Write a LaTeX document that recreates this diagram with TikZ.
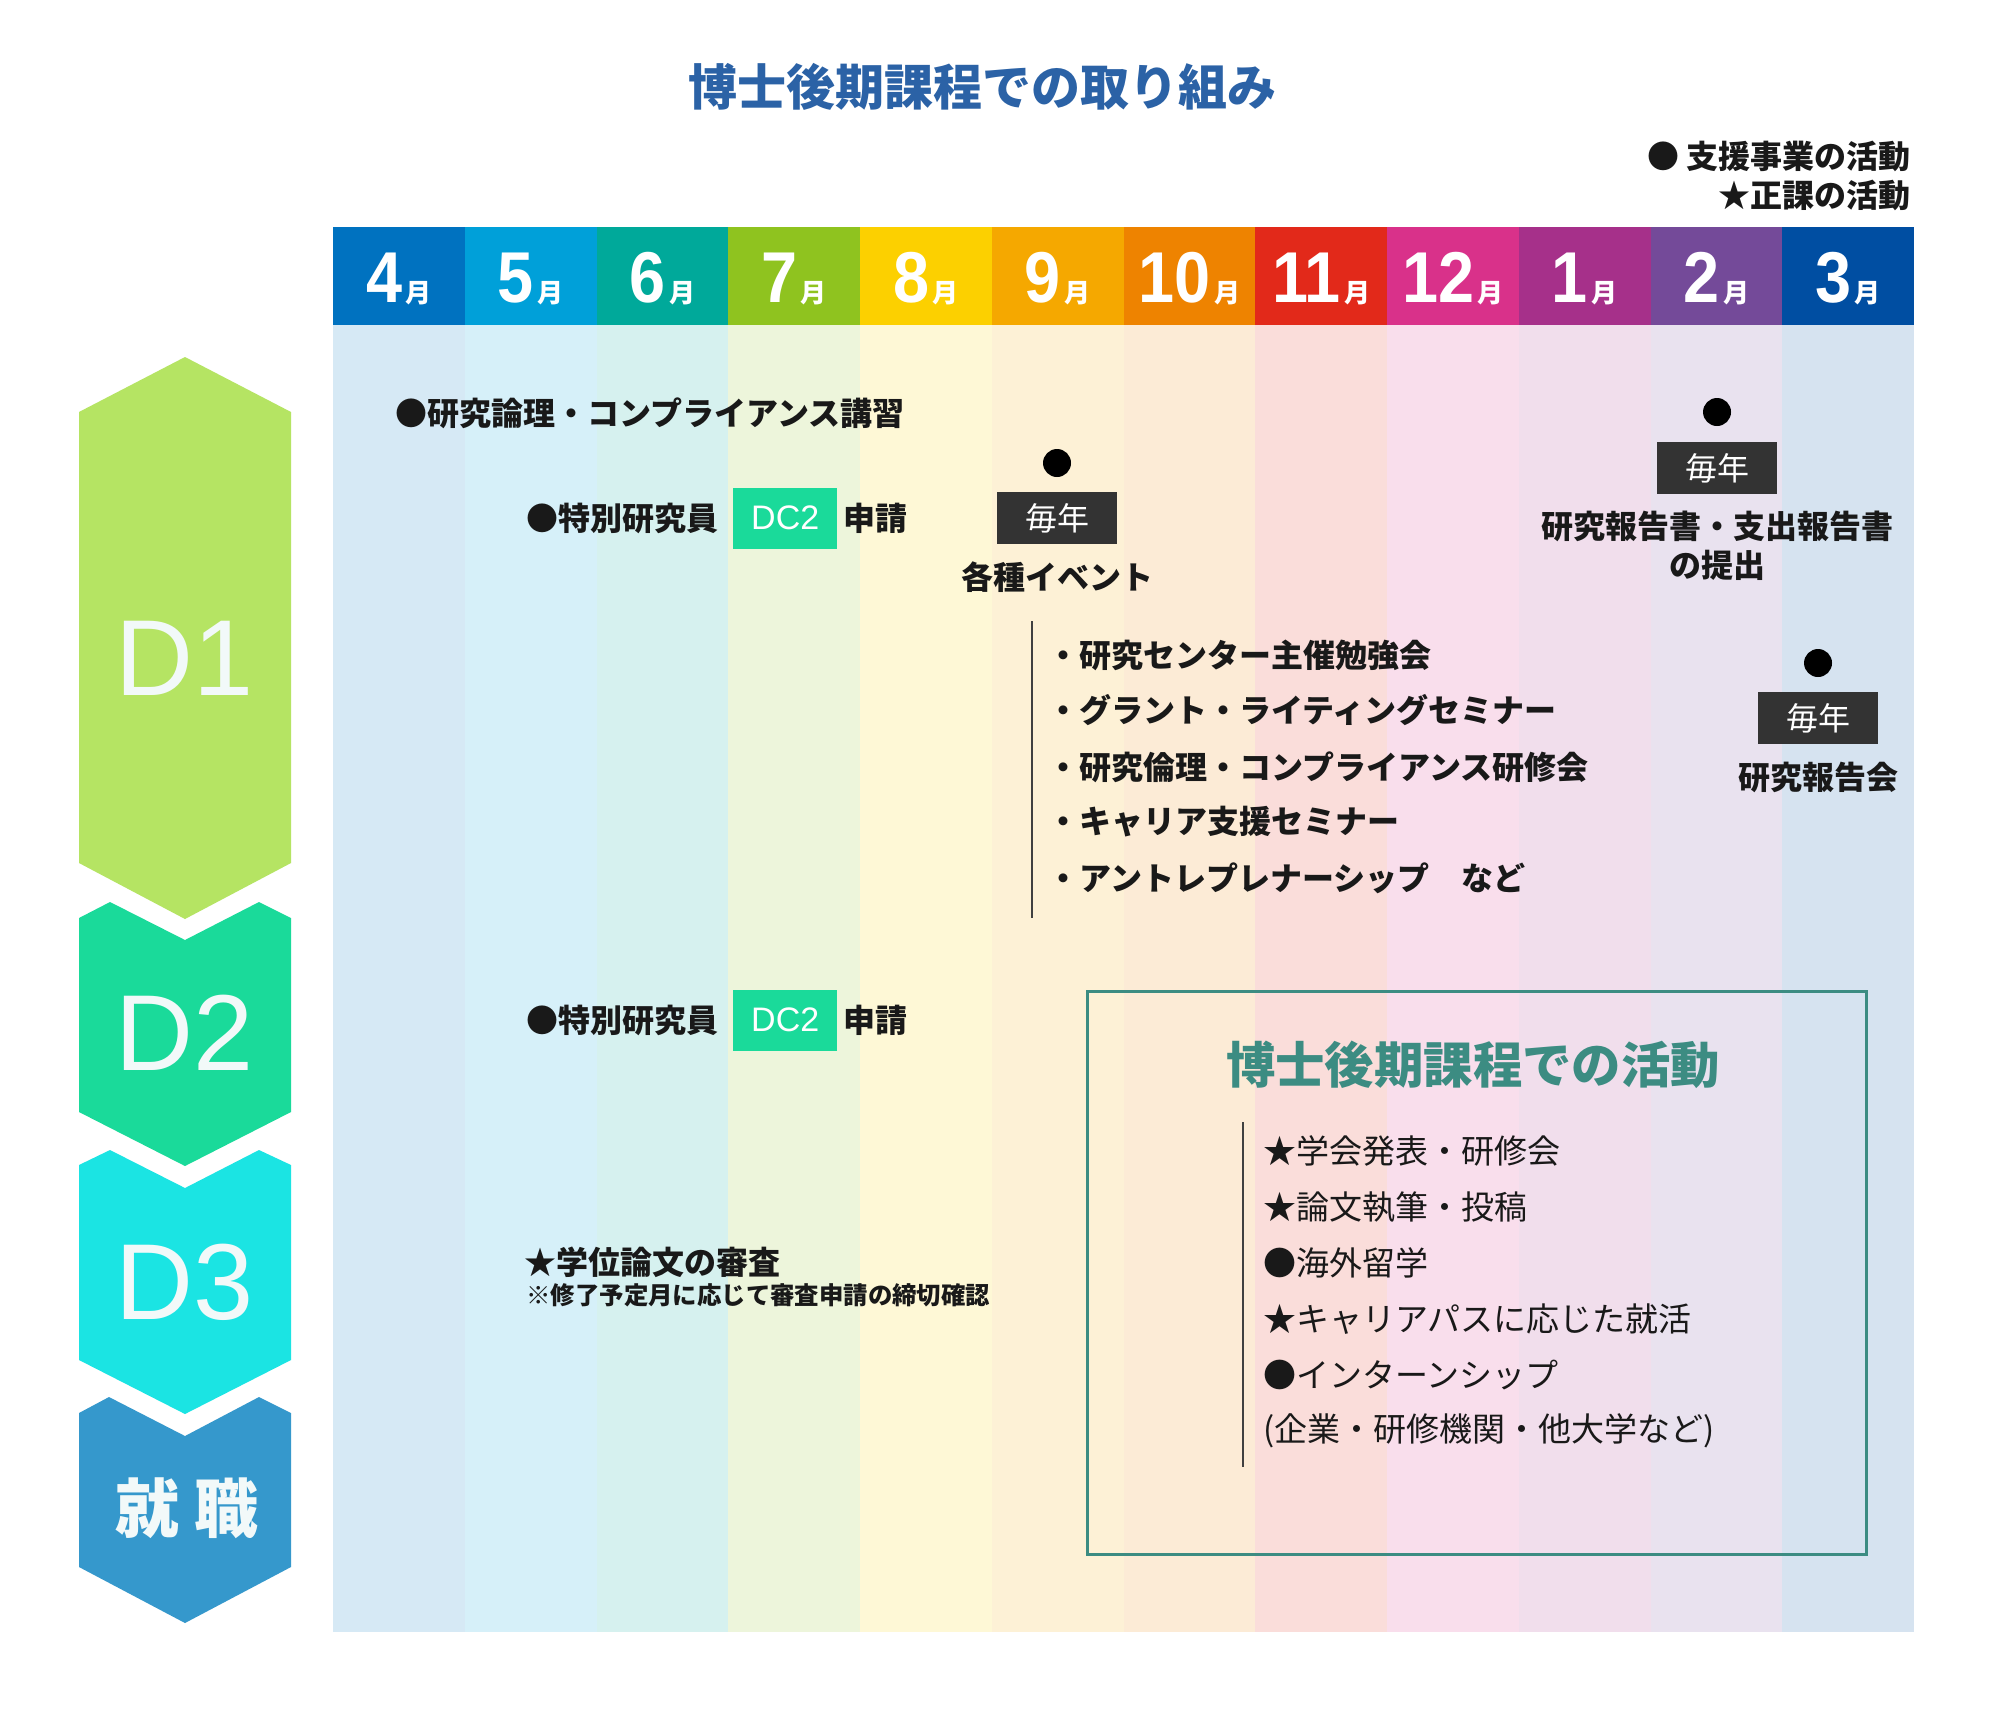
\documentclass[tikz,border=0pt]{standalone}
\usepackage{fontspec}
\setmainfont{Noto Sans CJK JP}
\newfontfamily\latinf{Liberation Sans}
\usetikzlibrary{positioning}

\definecolor{mon4}{HTML}{0072C0}
\definecolor{mon5}{HTML}{00A0D9}
\definecolor{mon6}{HTML}{00A99A}
\definecolor{mon7}{HTML}{8FC31F}
\definecolor{mon8}{HTML}{FCD000}
\definecolor{mon9}{HTML}{F5A800}
\definecolor{mon10}{HTML}{EE8300}
\definecolor{mon11}{HTML}{E2291A}
\definecolor{mon12}{HTML}{D9318A}
\definecolor{mon1}{HTML}{A6308A}
\definecolor{mon2}{HTML}{744A99}
\definecolor{mon3}{HTML}{004EA2}
\definecolor{stageD1}{HTML}{B5E463}
\definecolor{stageD2}{HTML}{1ADA9A}
\definecolor{stageD3}{HTML}{1BE4E3}
\definecolor{stageJob}{HTML}{3598CC}
\definecolor{titleblue}{HTML}{2B62A6}
\definecolor{tealline}{HTML}{3C8C82}
\definecolor{yeargray}{HTML}{333333}
\definecolor{labelwhite}{HTML}{F2F9F9}

\begin{document}
\begin{tikzpicture}[x=0.5pt, y=-0.5pt,
  every node/.style={inner sep=0pt, text=black!90, font=\bfseries\fontsize{16}{19}\selectfont},
  monthlbl/.style={text=white, font=\latinf\bfseries},
  stagelbl/.style={text=labelwhite, font=\latinf\fontsize{54}{54}\selectfont},
  dcbox/.style={fill=stageD2, text=white, minimum width=52pt, minimum height=30.5pt, font=\latinf\fontsize{17}{17}\selectfont},
  yearbox/.style={fill=yeargray, text=white, minimum width=60pt, minimum height=26pt, font=\fontsize{16}{16}\selectfont},
  dotmark/.style={circle, fill=black, minimum size=14pt},
  itemtxt/.style={font=\fontsize{16.5}{19}\selectfont},
  listline/.style={draw=black!75, line width=0.7pt}]
  \fill[white] (0,0) rectangle (2000,1708);
  \useasboundingbox (0,0) rectangle (2000,1708);

  % Month columns
  \foreach \m [count=\i from 0] in {4,5,...,12,1,2,3} {
    \pgfmathsetmacro\xl{333+\i*131.75}
    \pgfmathsetmacro\xr{\xl+131.75}
    \pgfmathsetmacro\xc{\xl+65.875}
    \fill[mon\m!16] (\xl,325) rectangle (\xr,1632);
    \fill[mon\m] (\xl,227) rectangle (\xr,325);
    \node[monthlbl, anchor=base] (month\m) at (\xc,302)
      {\scalebox{0.9}[1]{\fontsize{36}{36}\selectfont\m}\,\normalfont\bfseries\fontsize{13}{13}\selectfont 月};
  }

  % Stage chevrons
  \fill[stageD1] (79,412) -- (185,357) -- (291,412) -- (291,863) -- (185,919) -- (79,863) -- cycle;
  \fill[stageD2] (79,918) -- (110,902) -- (185,940) -- (259,902) -- (291,918) -- (291,1112) -- (185,1166) -- (79,1112) -- cycle;
  \fill[stageD3] (79,1165) -- (110,1150) -- (185,1188) -- (259,1150) -- (291,1165) -- (291,1360) -- (185,1414) -- (79,1360) -- cycle;
  \fill[stageJob] (79,1413) -- (109,1397) -- (185,1436) -- (259,1397) -- (291,1413) -- (291,1567) -- (185,1623) -- (79,1567) -- cycle;
  \node[stagelbl, anchor=base] (d1) at (185,695) {D1};
  \node[stagelbl, anchor=base] (d2) at (185,1070) {D2};
  \node[stagelbl, anchor=base] (d3) at (185,1319) {D3};
  \node[text=labelwhite, font=\bfseries\fontsize{32}{32}\selectfont] (job) at (187,1508) {就 職};

  % Title and legend
  \node[text=titleblue, font=\bfseries\fontsize{24.5}{28}\selectfont] (title) at (982,87) {博士後期課程での取り組み};
  \node[anchor=east] (lgsupport) at (1911,156) {● 支援事業の活動};
  \node[anchor=east] (lgcourse) at (1911,195) {★正課の活動};

  % D1 row
  \node[anchor=west] (ethics) at (395,413) {●研究論理・コンプライアンス講習};
  \node[anchor=west] (jsps1) at (526,518) {●特別研究員};
  \node[dcbox, right=7pt of jsps1] (dc1) {DC2};
  \node[right=2.5pt of dc1] (apply1) {申請};

  % Events (Sep)
  \node[dotmark] (dot9) at (1057,463) {};
  \node[yearbox] (year9) at (1057,518) {毎年};
  \node (events) at (1057,577) {各種イベント};
  \draw[listline] (1032,621) -- (1032,918);
  \node[anchor=west] (ev1) at (1047,655) {・研究センター主催勉強会};
  \node[anchor=west] (ev2) at (1047,710) {・グラント・ライティングセミナー};
  \node[anchor=west] (ev3) at (1047,767) {・研究倫理・コンプライアンス研修会};
  \node[anchor=west] (ev4) at (1047,822) {・キャリア支援セミナー};
  \node[anchor=west] (ev5) at (1047,878) {・アントレプレナーシップ　など};

  % Reports (Feb, Mar)
  \node[dotmark] (dot2) at (1717,412) {};
  \node[yearbox] (year2) at (1717,468) {毎年};
  \node (report2a) at (1717,526) {研究報告書・支出報告書};
  \node (report2b) at (1717,565) {の提出};
  \node[dotmark] (dot3) at (1818,663) {};
  \node[yearbox] (year3) at (1818,718) {毎年};
  \node (report3) at (1818,777) {研究報告会};

  % D2 row
  \node[anchor=west] (jsps2) at (526,1020) {●特別研究員};
  \node[dcbox, right=7pt of jsps2] (dc2) {DC2};
  \node[right=2.5pt of dc2] (apply2) {申請};

  % D3 row
  \node[anchor=west] (thesis) at (524,1262) {★学位論文の審査};
  \node[anchor=west, font=\bfseries\fontsize{12.2}{14}\selectfont] (deadline) at (526,1295) {※修了予定月に応じて審査申請の締切確認};

  % Activities box
  \draw[tealline, line width=1.5pt] (1087,991) rectangle (1866,1554);
  \node[text=tealline, font=\bfseries\fontsize{24.7}{28}\selectfont] (acttitle) at (1473,1065) {博士後期課程での活動};
  \draw[listline] (1243,1122) -- (1243,1467);
  \node[anchor=west, itemtxt] (act1) at (1263,1151) {★学会発表・研修会};
  \node[anchor=west, itemtxt] (act2) at (1263,1207) {★論文執筆・投稿};
  \node[anchor=west, itemtxt] (act3) at (1263,1263) {●海外留学};
  \node[anchor=west, itemtxt] (act4) at (1263,1319) {★キャリアパスに応じた就活};
  \node[anchor=west, itemtxt] (act5) at (1263,1375) {●インターンシップ};
  \node[anchor=west, itemtxt] (act6) at (1263,1431) {(企業・研修機関・他大学など)};
\end{tikzpicture}
\end{document}
